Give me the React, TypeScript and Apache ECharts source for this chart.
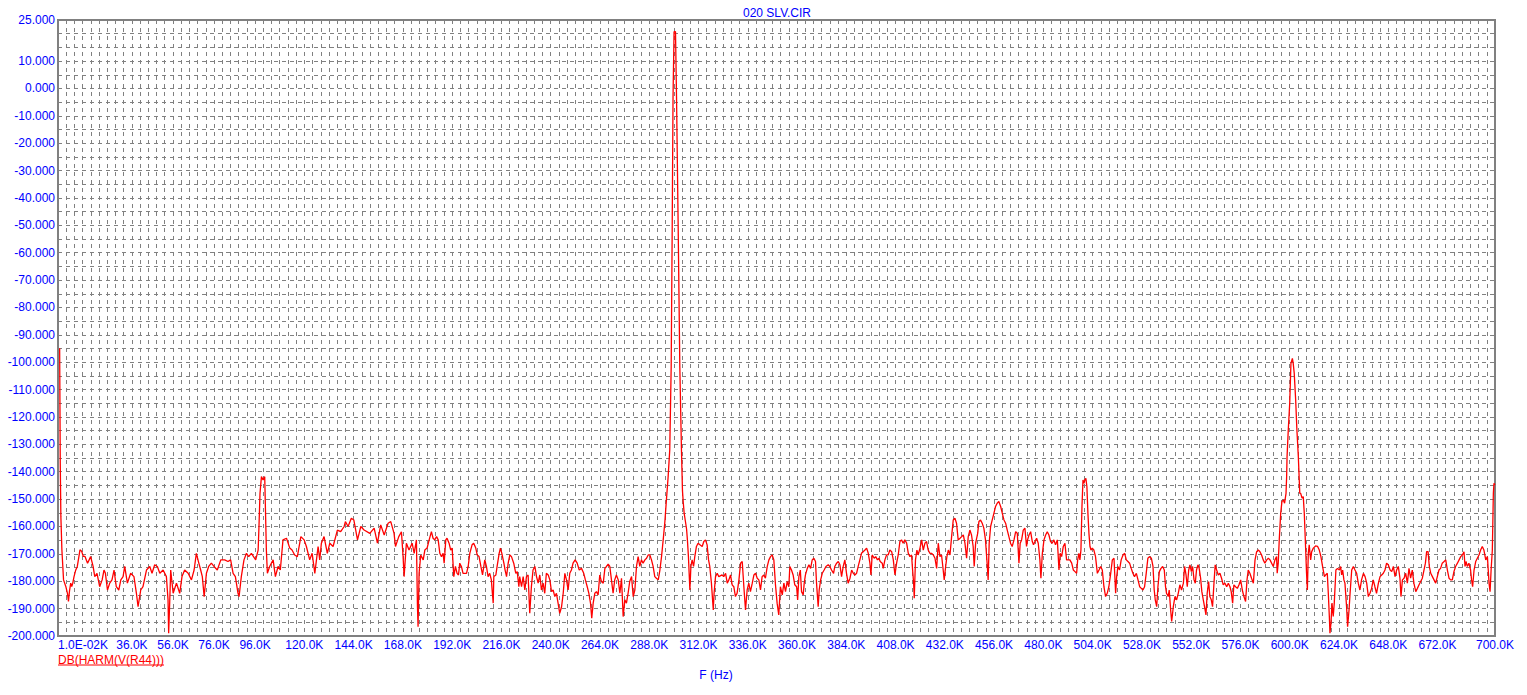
import React, { useEffect, useRef } from 'react';
import * as echarts from 'echarts';

const FONT = '"Liberation Sans", Arial, sans-serif';
const TITLE = '020 SLV.CIR';
const SERIES_NAME = 'DB(HARM(V(R44)))';
const X_NAME = 'F (Hz)';

// x tick labels (kHz); 0 is shown as the first sample 1.0E-02K
const xTickValues = [0, 36, 56, 76, 96, 120, 144, 168, 192, 216, 240, 264, 288, 312, 336, 360, 384, 408, 432, 456, 480, 504, 528, 552, 576, 600, 624, 648, 672, 700];
const yTickValues = [25, 10, 0, -10, -20, -30, -40, -50, -60, -70, -80, -90, -100, -110, -120, -130, -140, -150, -160, -170, -180, -190, -200];

// frequency in kHz
const freqK = [
  0.8, 0.9, 1.1, 1.4, 1.9, 2.7, 3.8, 4.6, 5.1, 5.6, 6.2, 6.7, 7.2, 7.8, 8.6, 9.4, 10.2, 10.7, 11.5, 12.3, 13.1, 14.4,
  15.9, 17.1, 17.9, 19.0, 20.3, 21.5, 22.4, 23.1, 24.1, 25.2, 26.3, 27.3, 28.4, 29.6, 30.6, 31.7, 32.5, 33.8, 35.4, 37.0, 38.2, 39.0, 40.3, 41.4, 43.1, 44.7, 45.8, 47.1, 48.4, 49.6, 51.2, 52.8, 53.6, 53.9, 54.4, 54.9, 56.1, 57.7, 59.3, 60.4, 61.7, 63.4, 65.0, 66.3, 67.4, 68.6, 69.5, 70.3, 71.2, 72.3, 73.4, 74.7, 76.0, 77.6, 79.3, 81.2, 82.8, 84.1, 85.3, 86.4, 87.7, 88.2, 89.3, 90.6, 91.8, 92.9, 94.2, 96.3, 97.5, 97.9, 98.4, 99.1, 99.9, 100.7, 101.5, 102.0, 103.1, 104.8, 105.9, 107.2, 108.3, 109.6, 111.3, 112.9, 114.0, 115.3, 116.6, 118.3, 119.9, 121.0, 122.6, 123.8, 125.1, 126.7, 127.5, 128.3, 129.6, 131.2, 132.4, 134.0, 136.1, 137.7, 139.4, 140.0, 141.3, 142.9, 144.1, 145.9, 147.5, 149.1, 151.9, 154.0, 155.6, 157.2, 158.9, 160.8, 162.1, 163.7, 164.4, 166.0, 167.3, 168.1, 168.6, 169.7, 171.0, 172.5, 173.5, 174.6, 175.1, 175.4, 175.9, 176.7,
  177.9, 178.7, 179.8, 180.8, 181.9, 182.7, 183.5, 184.4, 185.2, 186.0, 186.8, 187.6, 188.1, 188.9, 189.5, 190.5, 191.3, 192.0, 192.8, 193.6, 194.4, 195.1, 195.7, 196.5, 197.3, 199.0, 199.8, 200.6, 201.7, 202.5, 203.5, 204.2, 205.1, 206.0, 206.8, 207.9, 208.7, 209.5, 210.3, 211.1, 211.6, 212.0, 212.3, 213.3, 213.9, 214.9, 215.5, 216.2, 217.2, 217.8, 218.5, 219.3, 220.1, 220.9, 222.0, 223.0, 223.7, 224.5, 224.9, 225.8, 226.6, 227.4, 228.2, 229.0, 229.8, 230.6, 231.4, 232.3, 233.1, 233.9, 234.7, 235.5, 236.3, 237.1, 237.9, 238.8, 239.6, 240.4, 241.2, 242.0, 242.8, 243.6, 244.4, 245.3, 246.1, 246.9, 247.7, 248.5, 249.3, 250.1, 250.9, 251.9, 252.9, 253.9, 255.0, 256.1, 256.9, 257.8, 258.6, 259.4, 260.0, 260.7, 261.5, 262.3, 263.1, 263.9, 264.7, 265.6, 266.4, 267.2, 268.0, 268.8, 269.6, 270.4, 271.2, 272.0, 272.9, 273.7, 274.5, 275.3, 276.1, 276.9, 277.7, 278.5, 279.4, 280.2, 281.0, 281.8, 282.6, 283.4, 284.2, 285.0, 285.9, 286.7, 287.5, 288.3, 289.1, 289.9, 290.7, 291.5, 292.4, 293.2, 294.0, 294.8, 295.6, 296.4, 297.2, 298.0, 298.7, 299.2, 299.6, 300.1, 300.8, 301.3, 302.1, 302.9, 303.7, 304.2, 304.6, 305.0, 305.6, 306.2, 306.6, 307.1, 307.8, 308.3, 308.9, 309.6, 310.2, 311.0, 311.8, 312.7, 313.8, 314.6, 315.4, 316.2, 316.9, 317.5, 318.3, 319.2, 319.6, 320.3, 321.1, 321.9, 323.5, 324.3, 325.2, 326.0, 326.8, 327.6, 328.4, 329.2, 330.0, 330.8, 331.7, 332.5, 333.3, 334.1, 334.9, 335.7, 336.5, 337.3, 338.2, 339.0, 339.8, 340.6, 341.4, 342.2, 343.0, 343.8, 344.6, 345.5, 346.3, 347.1, 347.9, 348.7, 349.5, 350.3, 351.1, 351.9, 352.8, 353.6, 354.4, 355.2, 356.0,
  356.5, 357.3, 358.1, 358.9, 359.8, 360.3, 360.9, 361.6, 362.2, 363.0, 363.5, 364.1, 365.0, 365.8, 366.6, 367.4, 368.2, 369.0, 369.5, 370.3, 370.8, 371.5, 372.3, 373.2, 374.1, 375.2, 376.0, 376.8, 377.8, 378.4, 379.3, 380.1, 380.9, 381.7, 382.5, 383.3, 384.1, 384.9, 385.8, 386.6, 387.4, 388.2, 389.0, 389.8, 390.6, 391.4, 392.2, 393.1, 393.9, 394.7, 395.5, 396.0, 396.6, 397.6, 398.3, 399.2, 399.9, 400.5, 401.5, 402.0, 402.8, 403.6, 404.4, 405.2, 406.1, 406.9, 407.7, 408.5, 409.3, 410.1, 410.9, 411.7, 412.5, 413.4, 414.2, 415.0, 415.8, 416.3, 416.8, 417.1, 417.7, 418.4, 419.0, 419.9, 420.7, 421.5, 422.3, 423.1, 423.9, 424.7, 425.5, 426.4, 427.2, 428.0, 428.8, 429.6, 430.4, 431.2, 431.7, 432.4, 433.0, 433.7, 434.5, 435.3, 436.1, 436.9, 437.7, 438.5, 439.4, 440.2, 441.0, 441.8, 442.6, 443.4, 444.2, 445.0, 445.8, 446.3, 447.0, 448.0, 448.6, 449.4, 450.2, 451.0, 451.8, 452.7, 453.1, 453.6, 454.3, 455.1, 455.9, 456.7, 457.5, 458.3, 459.2, 460.0, 460.8, 461.6, 462.4, 463.2, 464.0, 464.8, 465.7, 466.5, 467.3, 468.1, 468.7, 469.4, 470.2, 471.0, 471.8, 472.3, 473.0, 473.8, 474.6, 475.2, 475.9, 476.7, 477.5, 478.3, 478.8, 479.5, 480.3, 481.1, 481.9, 482.7, 483.5, 484.3, 485.1, 485.9, 486.8, 487.6, 488.2, 488.9, 489.7, 490.5, 491.3, 492.9, 493.8, 494.6, 495.4, 496.2, 496.7, 497.3, 497.8, 498.3, 498.8, 499.3, 499.8, 500.2, 500.7, 501.2, 501.7, 502.2, 502.7, 503.2, 503.8, 504.6, 505.4, 506.3, 507.1, 507.9, 508.7, 509.5, 510.3, 511.1, 511.9, 512.8, 513.6, 514.4, 515.2, 515.7, 516.3, 517.1, 517.9, 518.8, 519.6, 520.4, 521.2, 522.0, 522.8, 523.6, 524.4, 525.3, 526.1, 526.9, 527.7, 528.5, 529.3, 530.1, 530.9, 531.8, 532.6, 533.4, 534.0,
  534.5, 535.2, 535.8, 536.5, 537.3, 538.1, 538.9, 539.5, 540.0, 540.8, 541.3, 542.0, 542.5, 543.3, 544.1, 544.9, 545.7, 546.5, 547.3, 548.2, 548.8, 549.5, 550.1, 550.8, 551.4, 552.1, 552.7, 553.4, 554.0, 554.6, 555.3, 555.9, 556.6, 557.2, 557.9, 558.5, 559.2, 559.8, 560.5, 561.1, 561.8, 562.4, 563.1, 563.7, 564.4, 565.2, 566.0, 566.8, 567.6, 568.4, 569.3, 570.1, 570.9, 571.5, 572.2, 572.8, 573.6, 574.5, 575.3, 576.1, 576.9, 577.7, 578.5, 579.2, 579.8, 580.6, 581.4, 582.3, 583.1, 583.9, 584.7, 585.5, 586.3, 587.1, 587.9, 588.8, 589.6, 590.4, 591.2, 592.0, 592.8, 593.6, 593.9, 594.4, 594.9, 595.6, 596.2, 596.9, 597.5, 598.2, 598.5, 598.7, 599.3, 600.0, 600.6, 601.3, 601.7, 602.2, 602.9, 603.5, 604.2, 604.9, 605.3, 606.0, 606.6, 607.1, 607.6, 608.2, 608.6, 609.05, 609.5, 610.2, 610.7, 611.5, 612.6, 613.6, 614.4, 615.2, 616.0, 616.9, 617.5, 618.3, 618.8, 619.3, 619.6, 620.1, 620.6, 621.2, 621.7, 622.5, 623.3, 624.2, 624.8, 625.3, 625.8, 626.4, 626.9, 627.7, 628.2, 628.9, 629.4, 630.2, 631.0, 631.8, 632.6, 633.4, 634.2, 635.0, 635.9, 636.7, 637.5, 638.3, 639.1, 639.9, 640.7, 641.5, 642.3, 643.2, 644.0, 644.8, 645.6, 646.4, 647.2, 648.0, 648.9, 649.7, 650.5, 651.3, 652.1, 652.9, 653.7, 654.2, 654.9, 655.7, 656.5, 657.3, 658.1, 658.9, 659.7, 660.5, 661.4, 662.2, 663.0, 663.8, 664.6, 665.4, 666.1, 666.7, 667.4, 668.0, 668.7, 669.5, 670.3, 671.1, 671.9, 672.7, 673.5, 674.3, 675.2, 676.0, 676.8, 677.6, 678.4, 679.2, 680.0, 680.8, 681.7, 682.5, 683.3, 684.1, 684.9, 685.4, 685.9, 686.5, 687.3, 688.1, 688.6, 689.1, 689.8, 690.6, 691.4, 692.2, 693.0, 693.8, 694.6, 695.5, 696.3, 697.1, 697.6, 698.1, 698.7, 699.2, 699.5, 700.0,
];

// magnitude in dB
const dbValues = [
  -94.9, -108.6, -137, -156.4, -168.6, -179.5, -181.9, -184.4, -187.4, -183.5, -180.7, -181.9, -180.7, -178.3, -176, -174.6, -170.9, -168.5, -169, -170.9, -170.9, -173.4,
  -171, -174.6, -178.3, -177.1, -182, -179.5, -175.9, -177.1, -183.2, -180.7, -179.5, -175.9, -182, -183.2, -179.5, -178.3, -174.6, -180.7, -177.1, -178.3, -184.4, -189.3, -183.2, -182, -175.9, -174.6, -177.1, -174, -174.6, -177.1, -175.9, -178.3, -186.8, -199, -188, -175.9, -184.4, -180.7, -184.4, -178.3, -175.9, -177.1, -179.5, -175.9, -169.8, -173.4, -175.9, -178.3, -185.6, -177.1, -174.6, -173.4, -174.6, -175.9, -172.2, -172.2, -172.8, -172.2, -177.1, -178.3, -184.4, -185.6, -178.3, -172.2, -169.8, -171, -169.8, -172.2, -168.6, -160, -147.9, -141.8, -143, -141.8, -168.6, -177.1, -174.6, -172.2, -178.3, -174.6, -175.9, -164.9, -164.3, -167.9, -168.6, -170.4, -171, -163.7, -164.9, -167.3, -172.2, -169.8, -177.1, -167.3, -172.2, -166.1, -163.7, -169.8, -166.1, -167.3, -161.3, -161.9, -160, -158.2, -160, -157, -157.6, -164.9, -160, -161.3, -162.5, -160.6, -166.1, -159.4, -163.1, -158.8, -158.2, -162.5, -167.3, -163.7, -161.9, -171, -178.3, -166.1, -168.6, -166.1, -169.8, -164.9, -189.3, -196.6, -177.1, -170.4,
  -172.2, -168.6, -167.9, -164.9, -161.9, -164.3, -164.9, -163.7, -164.9, -169.8, -171, -169.8, -173.4, -164.9, -164.3, -166.1, -168.6, -167.9, -178.3, -174.6, -177.1, -177.7, -173.4, -174.6, -177.1, -177.1, -174.6, -169.8, -166.7, -166.1, -167.9, -170.4, -171, -174.6, -177.7, -172.2, -174.6, -178.3, -177.1, -179.5, -184.4, -188, -178.3, -177.7, -174.6, -169.8, -167.9, -169.8, -173.4, -175.9, -178.3, -173.4, -170.4, -171, -173.4, -177.1, -176.5, -182, -178.3, -182, -178.3, -183.2, -178.3, -177.7, -191.7, -182, -175.9, -174.6, -178.3, -180.7, -177.7, -183.2, -180.7, -184.4, -177.1, -177.7, -179.5, -183.8, -183.2, -185.6, -184.4, -188, -191.7, -189.3, -184.4, -177.1, -179.5, -183.2, -177.1, -175.9, -173.4, -172.2, -173.4, -175.9, -175.3, -177.1, -179.5, -182, -184.4, -188, -193.5, -188, -184.4, -183.8, -185, -177.7, -180.1, -180.7, -175.3, -174.6, -173.7, -174.6, -179.5, -184.4, -179.5, -177.7, -179.5, -184.4, -178.9, -192.9, -186.8, -188, -184.4, -180.1, -178.3, -185.6, -183.2, -174.6, -171, -174.6, -172.2, -173.4, -172.2, -171.6, -170.4, -170.4, -172.2, -174.6, -178.3, -178.9, -179.5, -175.9, -171, -164.9, -158.5, -150, -142, -132, -101.6, -50.4, -3, 20.7, 20.7, -3, -50.4, -101.6, -132, -147, -151.4, -155, -158, -161, -164.9, -171, -183.2, -174.6, -172.2, -174.6, -171, -167.3, -166.1, -166.7, -167.3, -165.5, -164.9, -166.7, -172.2, -174.6, -180.7, -190.5, -184.4, -178.3, -177.1, -178.3, -177.7, -178.3, -177.1, -180.7, -179.5, -177.7, -181.3, -182, -185.6, -184.4, -179.5, -173.4, -172.8, -182, -190.5, -183.2, -180.7, -183.8, -180.7, -177.7, -177.1, -178.9, -179.5, -183.2, -178.3, -177.7, -178.9, -174.6, -172.2, -171, -170.4, -172.2, -181.3, -188, -192.3, -182, -185, -180.7, -183.8, -180.1, -182,
  -174.6, -175.9, -177.7, -181.3, -182, -186.8, -178.3, -175.9, -183.8, -185, -180.7, -177.7, -175.3, -174, -175.3, -172.2, -171.6, -172.8, -180.7, -189.3, -183.2, -179.5, -177.1, -175.9, -174.6, -174, -174.6, -175.9, -177.1, -174.6, -173.4, -172.8, -174, -178.3, -174.6, -172.2, -177.1, -180.7, -178.9, -175.9, -177.1, -177.7, -177.1, -174.6, -172.2, -169.8, -169.2, -168.6, -167.9, -169.8, -173.4, -177.7, -170.4, -171.6, -171, -172.2, -171.6, -172.8, -173.4, -175.3, -172.2, -170.4, -170.4, -168.6, -169.2, -172.2, -177.7, -173.4, -170.4, -165.5, -164.9, -166.1, -164.9, -166.1, -169.8, -171, -170.4, -175.9, -180.7, -186.2, -172.2, -168.6, -170.4, -167.9, -164.9, -168.6, -166.1, -165.5, -168.6, -169.8, -169.8, -170.4, -171.6, -175.3, -166.1, -171, -170.4, -175.9, -179.5, -174.6, -171, -168.6, -170.4, -163.7, -157.6, -157, -158.8, -164.9, -164.3, -163.7, -163.1, -166.1, -171.6, -163.7, -161.3, -163.1, -167.3, -174.6, -166.1, -162.5, -158.2, -157.6, -158.8, -160.6, -164.9, -174.6, -179.5, -166.1, -160, -157.6, -155.2, -152.7, -151.5, -150.9, -152.7, -155.2, -157.6, -158.8, -161.3, -163.7, -166.1, -167.3, -164.9, -161.9, -162.5, -173.4, -166.1, -164.9, -161.3, -160.6, -167.3, -164.9, -163.1, -161.9, -165.5, -166.7, -165.5, -164.3, -166.1, -172.2, -178.9, -169.8, -164.9, -163.1, -161.9, -163.1, -165.5, -166.1, -164.9, -166.7, -164.9, -175.9, -169.8, -171, -167.3, -166.1, -172.2, -172.2, -173.4, -175.9, -176.5, -177.1, -172.2, -169.8, -172.2, -168.6, -152.7, -143, -144.2, -143, -142.4, -145.4, -155.2, -162.5, -167.3, -168.6, -167.9, -168.6, -171, -177.1, -175.9, -174.6, -175.9, -182, -185.6, -184.4, -182, -177.1, -172.2, -171.6, -184.4, -178.3, -174.6, -175.9, -172.2, -170.4, -169.8, -172.2, -172.8, -173.4, -175.3, -177.1, -178.3, -177.1, -179.5, -182, -182.6, -183.2, -182, -177.1, -171.6, -171, -171.6, -174.6, -183.2,
  -186.8, -189.3, -182, -176.5, -175.3, -174.6, -175.9, -182, -184.4, -185.6, -183.2, -190.5, -194.7, -189.3, -185.6, -186.8, -184.4, -181.3, -183.2, -180.7, -174.6, -177.7, -182, -175.9, -174, -176.5, -174.6, -179.5, -180.7, -175.9, -174, -175.3, -178.9, -183.8, -186.8, -189.3, -192.3, -184.4, -180.1, -185.6, -186.8, -189.3, -180.7, -174, -175.9, -177.7, -177.1, -178.9, -181.3, -180.7, -182, -180.7, -182, -183.8, -188, -181.3, -182, -182.6, -181.3, -179.5, -183.2, -185.6, -187.4, -179.5, -175.9, -177.1, -178.9, -180.7, -172.2, -169.2, -168.6, -169.2, -170.4, -172.2, -173.4, -172.2, -171.6, -172.2, -173.4, -174.6, -172.2, -171, -177.1, -173.4, -164.9, -155.2, -150.9, -150.3, -151.5, -147.9, -141.8, -134.5, -124.7, -115, -100.4, -98.6, -100.4, -104, -113.8, -124.7, -134.5, -147.9, -147.8, -149.6, -149.1, -155.2, -164.9, -177.1, -183.2, -169.8, -166.7, -172.2, -169.2, -167.9, -167.1, -167.3, -168.6, -171, -174.6, -178.3, -177.7, -177.1, -184.4, -192.9, -199, -195.3, -188, -192.9, -188, -175.9, -175.3, -175.9, -174.6, -177.7, -175.9, -179.5, -180.7, -189.3, -196.6, -190.5, -184.4, -175.9, -174.6, -175.9, -177.1, -180.7, -183.2, -179.5, -177.1, -178.3, -180.7, -185.6, -184.4, -182.6, -179.5, -182, -184.4, -180.7, -178.3, -177.7, -177.1, -175.9, -173.4, -174, -175.9, -176.5, -174.6, -178.3, -175.9, -174.6, -178.9, -185.6, -179.5, -178.9, -177.1, -180.7, -175.3, -178.9, -175.9, -180.7, -183.8, -182.6, -181.3, -180.1, -178.9, -175.9, -173.4, -169.2, -169.2, -174.6, -177.1, -178.3, -179.5, -180.7, -178.3, -175.9, -175.3, -173.4, -172.8, -172.2, -175.9, -178.9, -179.5, -179.5, -176.5, -174.6, -173.4, -172.2, -171, -170.4, -169.2, -174.6, -172.8, -174.6, -173.4, -175.9, -179.5, -182, -175.9, -172.8, -171.6, -170.4, -168.6, -167.3, -168.6, -172.2, -171, -180.7, -183.8, -175.9, -168.6, -147.9, -144.2, -144.8,
];

const BLUE = '#0000ff';
const RED = '#ff0000';
const GRID_GREY = '#808080';

export default function App() {
  const ref = useRef<HTMLDivElement>(null);

  useEffect(() => {
    if (!ref.current) return;
    const chart = echarts.init(ref.current, null, { renderer: 'svg' });
    const data = freqK.map((f, i) => [f, dbValues[i]]);
    const xSet = new Set(xTickValues);
    const ySet = new Set(yTickValues);

    chart.setOption({
      animation: false,
      backgroundColor: '#ffffff',
      textStyle: { fontFamily: FONT },
      grid: {
        left: 58,
        right: 32,
        top: 20,
        bottom: 59,
        show: true,
        borderColor: GRID_GREY,
        borderWidth: 2,
        backgroundColor: 'transparent',
      },
      xAxis: {
        type: 'value',
        min: 0,
        max: 700,
        interval: 4,
        axisLine: { show: false },
        axisTick: { show: false },
        splitLine: {
          show: true,
          lineStyle: { color: GRID_GREY, width: 1, type: [4, 4] },
        },
        axisLabel: {
          color: BLUE,
          fontSize: 12,
          fontFamily: FONT,
          margin: 3,
          showMinLabel: true,
          showMaxLabel: true,
          alignMinLabel: 'left',
          formatter: (v: number) => {
            const r = Math.round(v);
            if (!xSet.has(r)) return '';
            if (r === 0) return '1.0E-02K';
            return r.toFixed(1) + 'K';
          },
        },
      },
      yAxis: {
        type: 'value',
        min: -200,
        max: 25,
        interval: 5,
        axisLine: { show: false },
        axisTick: { show: false },
        splitLine: {
          show: true,
          lineStyle: { color: GRID_GREY, width: 1, type: [4, 4] },
        },
        axisLabel: {
          color: BLUE,
          fontSize: 12,
          fontFamily: FONT,
          margin: 3,
          showMinLabel: true,
          showMaxLabel: true,
          formatter: (v: number) => {
            const r = Math.round(v);
            if (!ySet.has(r)) return '';
            return r.toFixed(3);
          },
        },
      },
      graphic: [
        {
          type: 'text',
          x: 777,
          y: 12.5,
          style: {
            text: TITLE,
            fill: BLUE,
            font: `12px ${FONT}`,
            align: 'center',
            verticalAlign: 'middle',
          },
        },
        {
          type: 'text',
          x: 716,
          y: 675,
          style: {
            text: X_NAME,
            fill: BLUE,
            font: `12px ${FONT}`,
            align: 'center',
            verticalAlign: 'middle',
          },
        },
        {
          type: 'text',
          x: 58,
          y: 659.5,
          style: {
            text: SERIES_NAME,
            fill: RED,
            font: `12px ${FONT}`,
            align: 'left',
            verticalAlign: 'middle',
          },
        },
        {
          type: 'line',
          shape: { x1: 58, y1: 665, x2: 164, y2: 665 },
          style: { stroke: RED, lineWidth: 1 },
        },
      ],
      series: [
        {
          name: SERIES_NAME,
          type: 'line',
          data,
          showSymbol: false,
          symbol: 'none',
          clip: true,
          lineStyle: { color: RED, width: 1.3 },
          z: 5,
        },
      ],
    });

    return () => {
      chart.dispose();
    };
  }, []);

  return (
    <div
      ref={ref}
      style={{ position: 'absolute', left: 0, top: 0, width: 1527, height: 695 }}
    />
  );
}
